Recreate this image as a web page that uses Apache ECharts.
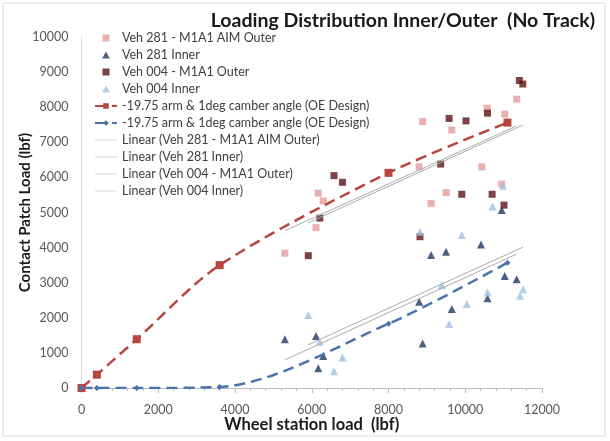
<!DOCTYPE html>
<html>
<head>
<meta charset="utf-8">
<script src="https://cdn.jsdelivr.net/npm/echarts@6/dist/echarts.min.js"></script>
<style>
  html, body { margin: 0; padding: 0; background: #fff; }
  #chart { width: 610px; height: 441px; }
</style>
</head>
<body>
<div id="chart"></div>
<script>
// measured points, [wheel station load, contact patch load] in lbf
const veh281Outer = [[5300, 3840], [6110, 4570], [6170, 5550], [6300, 5330], [8800, 6300], [8890, 7590], [9110, 5260],
  [9500, 5570], [9650, 7350], [10430, 6300], [10570, 7970], [10950, 5810], [11030, 7800], [11340, 8230]];
const veh281Inner = [[5300, 1390], [6110, 1480], [6170, 560], [6300, 910], [8800, 2460], [8890, 1270], [9110, 3790],
  [9500, 3880], [9650, 2250], [10410, 4090], [10580, 2560], [10950, 5070], [11030, 3190], [11340, 3100]];
const veh004Outer = [[5910, 3770], [6210, 4840], [6580, 6050], [6800, 5860], [8820, 4310], [9360, 6380], [9580, 7680],
  [9910, 5520], [10020, 7610], [10580, 7830], [10700, 5520], [11010, 5210], [11410, 8760], [11500, 8660]];
const veh004Inner = [[5910, 2080], [6210, 1320], [6580, 480], [6800, 870], [8820, 4450], [9390, 2930], [9580, 1820],
  [9910, 4360], [10040, 2390], [10580, 2720], [10710, 5170], [10990, 5760], [11430, 2630], [11510, 2810]];

// OE design curves
const oeOuter = [[0, 0], [400, 380], [1440, 1390], [3600, 3500], [8000, 6130], [11100, 7560]];
const oeInner = [[0, 0], [400, 0], [1440, 0], [3600, 30], [8000, 1830], [11100, 3570]];

// linear trendlines (end points)
const fit281Outer = [[5300, 4480], [11330, 7460]];
const fit281Inner = [[5300, 800], [11330, 3810]];
const fit004Outer = [[5900, 4700], [11500, 7490]];
const fit004Inner = [[5900, 1230], [11500, 4010]];

const names = [
  'Veh 281 - M1A1 AIM Outer',
  'Veh 281 Inner',
  'Veh 004 - M1A1 Outer',
  'Veh 004 Inner',
  '-19.75 arm & 1deg camber angle (OE Design)',
  '-19.75 arm & 1deg camber angle (OE Design) ',
  'Linear (Veh 281 - M1A1 AIM Outer)',
  'Linear (Veh 281 Inner)',
  'Linear (Veh 004 - M1A1 Outer)',
  'Linear (Veh 004 Inner)'
];

const font = 'Lato, "Open Sans", sans-serif';
const squareIcon = 'path://M0,0 L10,0 L10,10 L0,10 Z';
const triIcon = 'path://M5,0 L10,9 L0,9 Z';
const lineIcon = 'path://M0,0 L44,0 L44,1 L0,1 Z';
const trendColor = '#ababab';

function scatter(name, data, symbol, color, size) {
  return {
    name: name, type: 'scatter', data: data,
    symbol: symbol, symbolSize: size,
    itemStyle: { color: color }
  };
}

function trend(name, data) {
  return {
    name: name, type: 'line', data: data, symbol: 'none',
    lineStyle: { color: trendColor, width: 1 },
    itemStyle: { color: trendColor }
  };
}

let chart = echarts.init(document.getElementById('chart'));
let option = {
  animation: false,
  backgroundColor: '#fff',
  textStyle: { fontFamily: font },
  graphic: [{
    type: 'rect', shape: { x: 3, y: 3, width: 602, height: 433 },
    style: { fill: 'none', stroke: '#d9d9d9', lineWidth: 1 }, silent: true
  }],
  title: {
    text: 'Loading Distribution Inner/Outer  (No Track)',
    right: 10, top: 6,
    textStyle: { fontFamily: font, fontSize: 19.5, fontWeight: 'bold', color: '#1a1a1a' }
  },
  legend: {
    orient: 'vertical', left: 89, top: 26,
    itemWidth: 22, itemHeight: 7, itemGap: 3,
    textStyle: { fontFamily: font, fontSize: 12.5, color: '#404040', lineHeight: 14 },
    data: [
      { name: names[0], icon: squareIcon },
      { name: names[1], icon: triIcon },
      { name: names[2], icon: squareIcon },
      { name: names[3], icon: triIcon },
      { name: names[4] },
      { name: names[5] },
      { name: names[6], icon: lineIcon },
      { name: names[7], icon: lineIcon },
      { name: names[8], icon: lineIcon },
      { name: names[9], icon: lineIcon }
    ]
  },
  grid: { left: 81.5, right: 68, top: 37, bottom: 53, containLabel: false, outerBoundsMode: 'none' },
  xAxis: {
    type: 'value', min: 0, max: 12000, interval: 2000,
    name: 'Wheel station load  (lbf)', nameLocation: 'middle', nameGap: 28, nameMoveOverlap: false,
    nameTextStyle: { fontFamily: font, fontSize: 16.5, fontWeight: 'bold', color: '#1a1a1a' },
    axisLine: { show: true, lineStyle: { color: '#bfbfbf' } },
    axisTick: { show: true, length: 5, lineStyle: { color: '#bfbfbf' } },
    minorTick: { show: true, splitNumber: 5, length: 3, lineStyle: { color: '#bfbfbf' } },
    axisLabel: { fontFamily: font, fontSize: 12.5, color: '#595959', margin: 15, formatter: function (v) { return String(v); } },
    splitLine: { show: false }
  },
  yAxis: {
    type: 'value', min: 0, max: 10000, interval: 1000,
    name: 'Contact Patch Load (lbf)', nameLocation: 'middle', nameGap: 49, nameMoveOverlap: false,
    nameTextStyle: { fontFamily: font, fontSize: 15, fontWeight: 'bold', color: '#1a1a1a' },
    axisLine: { show: true, lineStyle: { color: '#d9d9d9' } },
    axisTick: { show: false },
    axisLabel: { fontFamily: font, fontSize: 12.5, color: '#595959', margin: 13, formatter: function (v) { return String(v); } },
    splitLine: { show: false }
  },
  series: [
    scatter(names[0], veh281Outer, 'rect', '#e59c9c', 7),
    scatter(names[1], veh281Inner, 'triangle', '#1f3864', 8),
    scatter(names[2], veh004Outer, 'rect', '#5e1517', 7),
    scatter(names[3], veh004Inner, 'triangle', '#9dbfe3', 8),
    {
      name: names[4], type: 'line', data: oeOuter, smooth: 0.3,
      symbol: 'rect', symbolSize: 8,
      lineStyle: { color: '#b7463f', width: 2.5, type: [11, 6] },
      itemStyle: { color: '#b7463f' }
    },
    {
      name: names[5], type: 'line', data: oeInner, smooth: 0.3,
      symbol: 'diamond', symbolSize: 6,
      lineStyle: { color: '#4a74ab', width: 2.5, type: [11, 6] },
      itemStyle: { color: '#4a74ab' }
    },
    trend(names[6], fit281Outer),
    trend(names[7], fit281Inner),
    trend(names[8], fit004Outer),
    trend(names[9], fit004Inner)
  ]
};
chart.setOption(option);
</script>
</body>
</html>
